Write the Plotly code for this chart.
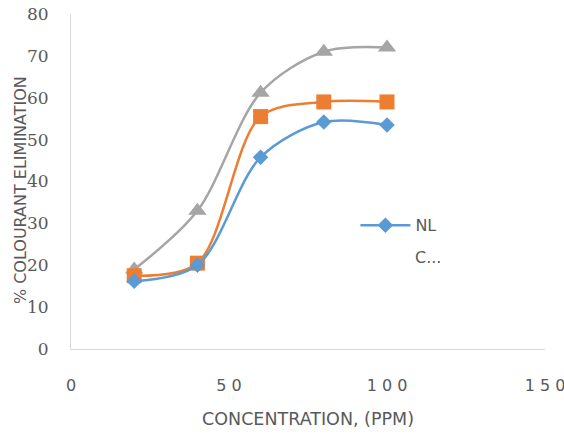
import plotly.graph_objects as go

conc = [20, 40, 60, 80, 100]
nl = [16.2, 20.0, 45.8, 54.2, 53.5]
series2 = [17.5, 20.5, 55.5, 59.0, 59.0]
series3 = [19.0, 33.0, 61.2, 71.0, 72.0]

x_tickvals = [0, 50, 100, 150]
x_ticktext = ["0", "5 0", "1 0 0", "1 5 0"]
y_tickvals = [0, 10, 20, 30, 40, 50, 60, 70, 80]

GREY = "#595959"
SANS = "DejaVu Sans"

fig = go.Figure()
fig.add_trace(go.Scatter(x=conc, y=series3, mode="lines+markers", line=dict(color="#A5A5A5", width=2.5, shape="spline", smoothing=0.9),
                         marker=dict(symbol="triangle-up", size=16, color="#A5A5A5"), showlegend=False, name="C3"))
fig.add_trace(go.Scatter(x=conc, y=series2, mode="lines+markers", line=dict(color="#ED7D31", width=2.5, shape="spline", smoothing=0.9),
                         marker=dict(symbol="square", size=15, color="#ED7D31"), showlegend=False, name="C2"))
fig.add_trace(go.Scatter(x=conc, y=nl, mode="lines+markers", line=dict(color="#5B9BD5", width=2.5, shape="spline", smoothing=0.9),
                         marker=dict(symbol="diamond", size=12, color="#5B9BD5"), showlegend=True, name="NL"))

fig.update_layout(
    width=564, height=435,
    margin=dict(l=71, r=19, t=14, b=86),
    paper_bgcolor="white", plot_bgcolor="white",
    font=dict(family=SANS, color=GREY),
    xaxis=dict(range=[0, 150], tickvals=x_tickvals, ticktext=x_ticktext, showgrid=False, zeroline=False,
               showline=True, linecolor="#D9D9D9", linewidth=1, ticks="", ticklabelstandoff=22,
               ticklabeloverflow="allow",
               tickfont=dict(size=16, color=GREY, family=SANS), automargin=False,
               title=dict(text="CONCENTRATION, (PPM)", font=dict(size=17.5, color=GREY, family=SANS), standoff=18)),
    yaxis=dict(range=[0, 80], tickvals=y_tickvals, showgrid=False, zeroline=False,
               showline=True, linecolor="#D9D9D9", linewidth=1, ticks="", ticklabelstandoff=18,
               ticklabeloverflow="allow",
               tickfont=dict(size=17, color=GREY, family="DejaVu Serif"), automargin=False),
    legend=dict(x=0.60, y=0.42, xanchor="left", yanchor="top", bgcolor="rgba(0,0,0,0)",
                itemwidth=50, font=dict(size=16, color=GREY, family=SANS)),
    annotations=[
        dict(text="% COLOURANT ELIMINATION", xref="paper", yref="paper", x=-0.105, y=0.475,
             xanchor="center", yanchor="middle", textangle=-90, showarrow=False,
             font=dict(size=16, color=GREY, family=SANS)),
        dict(text="C...", xref="paper", yref="paper", x=(413 - 71) / 474, y=(349 - 257) / 335,
             xanchor="left", yanchor="middle", showarrow=False,
             font=dict(size=16, color=GREY, family=SANS)),
    ],
)

fig.write_html("out.html")
